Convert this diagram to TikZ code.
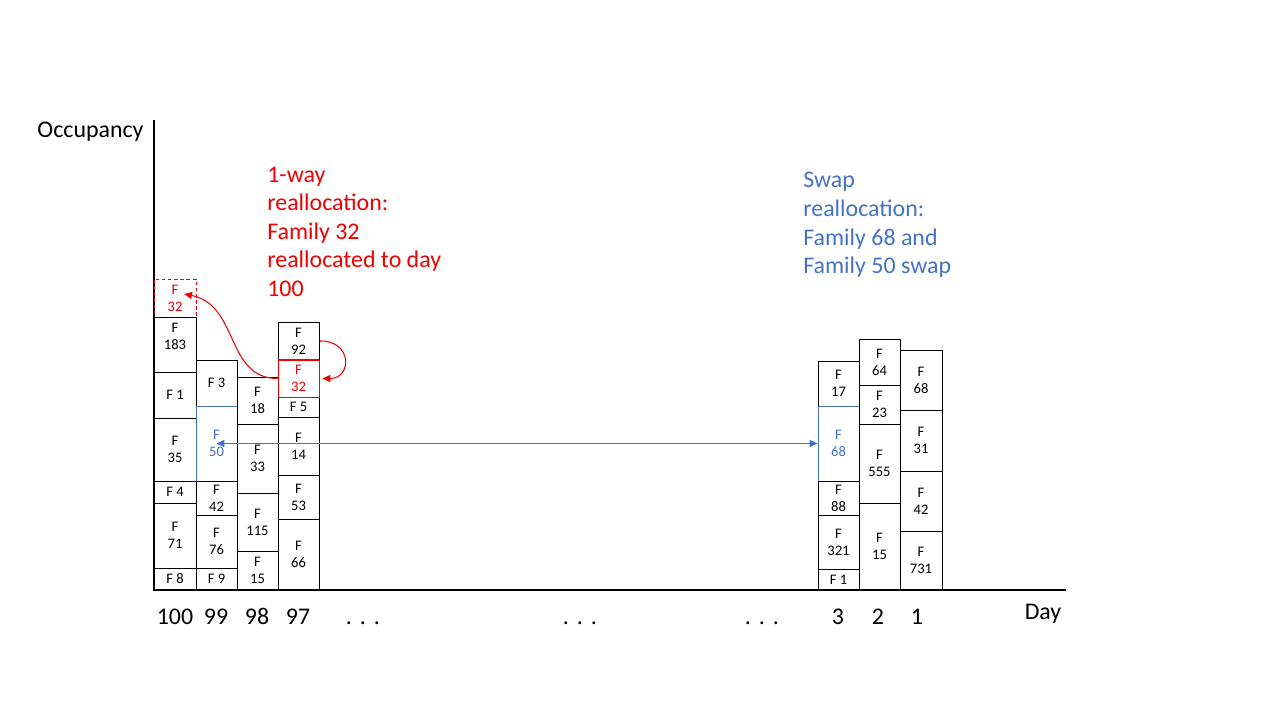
\documentclass[tikz,border=0pt]{standalone}
\usepackage{fontspec}
\setmainfont{Carlito}
\usetikzlibrary{arrows.meta,fit}
\definecolor{moved}{RGB}{240,0,0}
\definecolor{swapped}{RGB}{68,114,196}
\tikzset{
  famtext/.style={inner sep=0pt, align=center, font=\fontsize{8.3}{9.8}\selectfont},
  cellbox/.style={draw, line width=0.5pt, inner sep=0pt},
  famcell/.style={cellbox, label={[famtext]center:#1}},
  bigtext/.style={inner sep=0pt, font=\fontsize{13.6}{16.4}\selectfont},
  movearrow/.style={draw=moved, line width=0.6pt, -{Triangle[length=4.5pt,width=4pt]}},
  swaparrow/.style={draw=swapped, line width=0.6pt, {Triangle[length=4.5pt,width=4pt]}-{Triangle[length=4.5pt,width=4pt]}}
}
\begin{document}
\begin{tikzpicture}[x=0.02cm, y=-0.02cm]
\useasboundingbox (0,0) rectangle (1280,720);

% axes
\coordinate (ytop) at (154,120);
\coordinate (xend) at (1066,590);
\draw [line width=1pt] (ytop) |- (xend);
\node [bigtext, anchor=base] (occ) at (90.5,137) {Occupancy};
\node [bigtext, anchor=base] (day) at (1043,619) {Day};

% day 100
\node [cellbox, draw=moved, dash pattern=on 2pt off 1.5pt, label={[famtext, text=moved]center:F\\32}, fit={(154,279) (196,317)}] (f32a) {};
\node [cellbox, label={[famtext, yshift=4.5pt]center:F\\183}, fit={(154,317) (196,372)}] (f183) {};
\node [famcell={F 1}, fit={(154,372) (196,418)}] (f1a) {};
\node [famcell={F\\35}, fit={(154,418) (196,481)}] (f35) {};
\node [famcell={F 4}, fit={(154,481) (196,503)}] (f4) {};
\node [famcell={F\\71}, fit={(154,503) (196,568)}] (f71) {};
\node [famcell={F 8}, fit={(154,568) (196,590)}] (f8) {};

% day 99
\node [famcell={F 3}, fit={(196,360) (237,406)}] (f3) {};
\node [cellbox, draw=swapped, label={[famtext, text=swapped]center:F\\50}, fit={(196,406) (237,481)}] (f50) {};
\node [famcell={F\\42}, fit={(196,481) (237,515)}] (f42a) {};
\node [famcell={F\\76}, fit={(196,515) (237,568)}] (f76) {};
\node [famcell={F 9}, fit={(196,568) (237,590)}] (f9) {};

% day 98
\node [famcell={F\\18}, fit={(237,377) (278,424)}] (f18) {};
\node [famcell={F\\33}, fit={(237,424) (278,493)}] (f33) {};
\node [famcell={F\\115}, fit={(237,493) (278,551)}] (f115) {};
\node [famcell={F\\15}, fit={(237,551) (278,590)}] (f15a) {};

% day 97
\node [famcell={F\\92}, fit={(278,322) (319,360)}] (f92) {};
\node [famcell={F 5}, fit={(278,397) (319,417)}] (f5) {};
\node [famcell={F\\14}, fit={(278,417) (319,475)}] (f14) {};
\node [famcell={F\\53}, fit={(278,475) (319,519)}] (f53) {};
\node [famcell={F\\66}, fit={(278,519) (319,590)}] (f66) {};
\node [cellbox, draw=moved, label={[famtext, text=moved]center:F\\32}, fit={(278,360) (319,397)}] (f32b) {};
\draw [moved, line width=1.2pt] (f32b.north west) -- (f32b.north east);

% day 3
\node [famcell={F\\17}, fit={(818,361) (859,406)}] (f17) {};
\node [cellbox, draw=swapped, label={[famtext, text=swapped]center:F\\68}, fit={(818,406) (859,481)}] (f68a) {};
\node [famcell={F\\88}, fit={(818,481) (859,515)}] (f88) {};
\node [famcell={F\\321}, fit={(818,515) (859,569)}] (f321) {};
\node [famcell={F 1}, fit={(818,569) (859,590)}] (f1b) {};

% day 2
\node [famcell={F\\64}, fit={(859,339) (900,385)}] (f64) {};
\node [famcell={F\\23}, fit={(859,385) (900,424)}] (f23) {};
\node [famcell={F\\555}, fit={(859,424) (900,503)}] (f555) {};
\node [famcell={F\\15}, fit={(859,503) (900,590)}] (f15b) {};

% day 1
\node [famcell={F\\68}, fit={(900,350) (942,410)}] (f68b) {};
\node [famcell={F\\31}, fit={(900,410) (942,471)}] (f31) {};
\node [famcell={F\\42}, fit={(900,471) (942,531)}] (f42b) {};
\node [famcell={F\\731}, fit={(900,531) (942,590)}] (f731) {};

% day labels
\node [bigtext, anchor=base] (d100) at (175,624) {100};
\node [bigtext, anchor=base] (d99) at (216,624) {99};
\node [bigtext, anchor=base] (d98) at (257,624) {98};
\node [bigtext, anchor=base] (d97) at (298,624) {97};
\node [bigtext, anchor=base] (dots1) at (363,624) {.\,\,.\,\,.};
\node [bigtext, anchor=base] (dots2) at (580,624) {.\,\,.\,\,.};
\node [bigtext, anchor=base] (dots3) at (762,624) {.\,\,.\,\,.};
\node [bigtext, anchor=base] (d3) at (838,624) {3};
\node [bigtext, anchor=base] (d2) at (878,624) {2};
\node [bigtext, anchor=base] (d1) at (917,624) {1};

% reallocation notes
\node [bigtext, text=moved, anchor=base west] (red1) at (267,182) {1-way};
\node [bigtext, text=moved, anchor=base west] (red2) at (267,210.5) {reallocation:};
\node [bigtext, text=moved, anchor=base west] (red3) at (267,239) {Family 32};
\node [bigtext, text=moved, anchor=base west] (red4) at (267,267.5) {reallocated to day};
\node [bigtext, text=moved, anchor=base west] (red5) at (267,296) {100};

\node [bigtext, text=swapped, anchor=base west] (blue1) at (803,187) {Swap};
\node [bigtext, text=swapped, anchor=base west] (blue2) at (803,216) {reallocation:};
\node [bigtext, text=swapped, anchor=base west] (blue3) at (803,245) {Family 68 and};
\node [bigtext, text=swapped, anchor=base west] (blue4) at (803,273) {Family 50 swap};

% arrows
\draw [movearrow] (f32b.west) .. controls +(-52,0) and +(55,11) .. ([xshift=5.2pt,yshift=2.3pt]f32a.center);
\draw [movearrow] (f92.east) .. controls +(33,-1) and +(30,0) .. ([xshift=1.7pt]f32b.east);
\draw [swaparrow] (f50.center) -- (f68a.west);
\end{tikzpicture}
\end{document}
